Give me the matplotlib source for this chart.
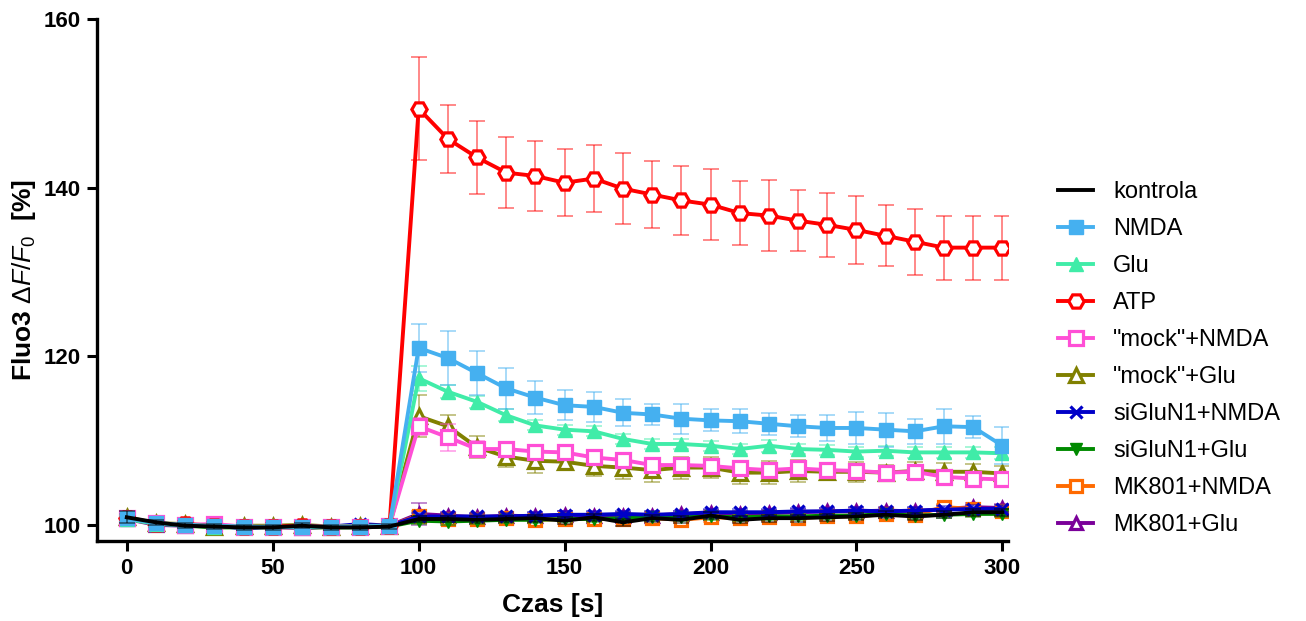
import matplotlib
matplotlib.use("Agg")
import matplotlib.pyplot as plt

plt.rcParams["font.family"] = ["Liberation Sans", "DejaVu Sans"]
plt.rcParams["mathtext.fontset"] = "custom"
plt.rcParams["mathtext.it"] = "Liberation Sans:italic"
plt.rcParams["mathtext.rm"] = "Liberation Sans"

time = [0, 10, 20, 30, 40, 50, 60, 70, 80, 90, 100, 110, 120, 130, 140, 150,
        160, 170, 180, 190, 200, 210, 220, 230, 240, 250, 260, 270, 280, 290, 300]

kontrola = [100.9, 100.3, 99.9, 99.8, 99.7, 99.7, 99.9, 99.7, 99.7, 99.8,
            100.7, 100.7, 100.6, 100.7, 100.8, 100.5, 100.9, 100.3, 100.8, 100.6,
            101.1, 100.6, 100.8, 100.8, 100.9, 101.0, 101.2, 101.0, 101.2, 101.5, 101.5]
kontrola_err = [0.7, 0.3, 0.3, 0.3, 0.3, 0.3, 0.3, 0.3, 0.3, 0.3,
                0.4, 0.4, 0.4, 0.4, 0.4, 0.4, 0.4, 0.4, 0.4, 0.4,
                0.4, 0.4, 0.4, 0.4, 0.4, 0.4, 0.4, 0.4, 0.4, 0.4, 0.4]

nmda = [100.8, 100.2, 100.0, 99.9, 99.8, 99.7, 99.8, 99.8, 99.8, 99.9,
        121.0, 119.8, 118.0, 116.2, 115.1, 114.2, 114.0, 113.3, 113.1, 112.6,
        112.4, 112.3, 112.0, 111.7, 111.5, 111.5, 111.3, 111.1, 111.7, 111.6, 109.4]
nmda_err = [0.5, 0.4, 0.4, 0.4, 0.4, 0.4, 0.4, 0.4, 0.4, 0.4,
            2.8, 3.2, 2.6, 2.4, 2.0, 1.8, 1.8, 1.6, 1.3, 1.8,
            1.3, 1.4, 1.3, 1.3, 1.5, 1.9, 2.0, 1.5, 2.1, 1.3, 2.2]

glu = [100.7, 100.1, 100.0, 99.8, 99.8, 99.8, 99.7, 99.8, 99.8, 99.9,
       117.4, 115.8, 114.6, 113.0, 111.8, 111.3, 111.1, 110.2, 109.6, 109.6,
       109.4, 109.0, 109.4, 109.0, 108.9, 108.7, 108.8, 108.6, 108.6, 108.6, 108.5]
glu_err = [0.4, 0.3, 0.3, 0.3, 0.3, 0.3, 0.3, 0.3, 0.3, 0.3,
           1.5, 0.8, 0.7, 0.7, 0.6, 0.6, 0.6, 0.6, 0.6, 0.6,
           0.6, 0.6, 0.7, 0.6, 0.6, 0.6, 0.6, 0.7, 0.7, 0.7, 0.7]

atp = [100.8, 100.1, 100.1, 99.9, 99.8, 99.8, 99.9, 99.8, 99.8, 99.9,
       149.4, 145.8, 143.6, 141.8, 141.4, 140.6, 141.1, 139.9, 139.2, 138.5,
       138.0, 137.0, 136.7, 136.1, 135.6, 135.0, 134.3, 133.6, 132.9, 132.9, 132.9]
atp_err = [0.5, 0.4, 0.4, 0.4, 0.4, 0.4, 0.4, 0.4, 0.4, 0.4,
           6.1, 4.0, 4.3, 4.2, 4.1, 4.0, 4.0, 4.2, 4.0, 4.1,
           4.2, 3.8, 4.2, 3.6, 3.8, 4.0, 3.6, 3.9, 3.8, 3.8, 3.8]

mock_nmda = [100.8, 100.2, 100.0, 100.1, 99.8, 99.7, 99.7, 99.8, 99.8, 99.9,
             111.7, 110.4, 109.0, 109.0, 108.7, 108.6, 108.0, 107.7, 107.1, 107.1,
             107.0, 106.7, 106.5, 106.7, 106.5, 106.4, 106.2, 106.3, 105.7, 105.5, 105.4]
mock_nmda_err = [0.5, 0.4, 0.4, 0.4, 0.4, 0.4, 0.4, 0.4, 0.4, 0.4,
                 1.0, 1.6, 0.9, 0.8, 0.8, 0.8, 0.7, 0.8, 0.8, 0.8,
                 0.8, 0.8, 0.8, 0.8, 0.8, 0.8, 0.8, 0.8, 0.8, 0.8, 0.8]

mock_glu = [100.9, 100.2, 100.1, 99.8, 99.9, 99.9, 100.0, 99.8, 99.9, 99.9,
            112.9, 111.7, 109.2, 108.1, 107.6, 107.5, 107.0, 106.8, 106.5, 106.8,
            106.8, 106.2, 106.2, 106.4, 106.3, 106.3, 106.2, 106.4, 106.3, 106.3, 106.1]
mock_glu_err = [0.5, 0.4, 0.4, 0.4, 0.4, 0.4, 0.4, 0.4, 0.4, 0.4,
                2.5, 1.3, 1.3, 1.2, 1.5, 1.0, 1.2, 1.3, 1.4, 1.3,
                1.2, 1.4, 1.4, 1.3, 1.0, 1.2, 0.9, 1.1, 1.0, 0.9, 0.9]

sigl_nmda = [100.8, 100.1, 100.0, 99.9, 99.6, 99.8, 99.8, 99.8, 100.1, 99.9,
             101.0, 101.0, 101.0, 101.0, 101.1, 101.2, 101.2, 101.3, 101.2, 101.3,
             101.5, 101.5, 101.5, 101.6, 101.6, 101.7, 101.6, 101.7, 101.8, 101.9, 101.9]
sigl_nmda_err = [0.4, 0.3, 0.3, 0.3, 0.3, 0.3, 0.3, 0.3, 0.3, 0.3,
                 0.4, 0.4, 0.4, 0.4, 0.4, 0.4, 0.4, 0.4, 0.4, 0.4,
                 0.4, 0.4, 0.4, 0.4, 0.4, 0.4, 0.4, 0.4, 0.4, 0.4, 0.4]

sigl_glu = [100.7, 100.2, 99.9, 99.7, 99.7, 99.7, 99.7, 99.7, 99.7, 99.8,
            100.5, 100.4, 100.5, 100.6, 100.6, 100.7, 100.7, 100.8, 100.9, 100.9,
            101.0, 100.9, 101.0, 101.0, 101.1, 101.1, 101.3, 101.1, 101.2, 101.3, 101.3]
sigl_glu_err = [0.4, 0.3, 0.3, 0.3, 0.3, 0.3, 0.3, 0.3, 0.3, 0.3,
                0.4, 0.4, 0.4, 0.4, 0.4, 0.4, 0.4, 0.4, 0.4, 0.4,
                0.4, 0.4, 0.4, 0.4, 0.4, 0.4, 0.4, 0.4, 0.4, 0.4, 0.4]

mk_nmda = [100.8, 100.1, 100.0, 99.8, 99.8, 99.7, 99.8, 99.7, 99.8, 99.9,
           101.1, 100.7, 100.7, 100.8, 100.6, 100.7, 100.7, 100.7, 100.8, 100.6,
           100.9, 100.8, 100.9, 100.8, 101.0, 101.0, 101.3, 101.2, 102.1, 101.9, 101.6]
mk_nmda_err = [0.4, 0.3, 0.3, 0.3, 0.3, 0.3, 0.3, 0.3, 0.3, 0.3,
               0.5, 0.4, 0.4, 0.4, 0.4, 0.4, 0.4, 0.4, 0.4, 0.4,
               0.5, 0.4, 0.4, 0.4, 0.4, 0.4, 0.4, 0.4, 0.4, 0.4, 0.4]

mk_glu = [100.7, 100.0, 99.9, 99.9, 99.8, 99.8, 99.6, 99.8, 99.8, 99.9,
          101.3, 101.1, 100.9, 101.1, 101.0, 101.2, 101.1, 101.1, 101.1, 101.3,
          101.4, 101.3, 101.4, 101.5, 101.6, 101.6, 101.7, 101.6, 101.9, 102.1, 102.0]
mk_glu_err = [0.4, 0.3, 0.3, 0.3, 0.3, 0.3, 0.3, 0.3, 0.3, 0.3,
              1.3, 0.4, 0.4, 0.4, 0.4, 0.4, 0.4, 0.4, 0.4, 0.4,
              0.4, 0.4, 0.4, 0.4, 0.4, 0.4, 0.4, 0.4, 0.5, 0.5, 0.5]

labels = ["kontrola", "NMDA", "Glu", "ATP", '"mock"+NMDA', '"mock"+Glu',
          "siGluN1+NMDA", "siGluN1+Glu", "MK801+NMDA", "MK801+Glu"]
values = [kontrola, nmda, glu, atp, mock_nmda, mock_glu,
          sigl_nmda, sigl_glu, mk_nmda, mk_glu]
errors = [kontrola_err, nmda_err, glu_err, atp_err, mock_nmda_err, mock_glu_err,
          sigl_nmda_err, sigl_glu_err, mk_nmda_err, mk_glu_err]

colors = ["#000000", "#45b0f0", "#40eca8", "#ff0000", "#ff4fd6", "#808000",
          "#0000c8", "#008a00", "#ff6a00", "#7a0099"]
markers = [None, "s", "^", "H", "s", "^", "x", "v", "s", "^"]
hollow = [False, False, False, True, True, True, False, False, True, True]
msizes = [0, 10, 10, 11, 10, 10, 9, 8, 8, 8]

fig = plt.figure(figsize=(13.06, 6.21), dpi=100)
ax = fig.add_axes([0.0743, 0.129, 0.6977, 0.840])

n = len(labels)
handles = []
for i, (lab, y, e, c, m, h, ms) in enumerate(zip(labels, values, errors, colors,
                                                  markers, hollow, msizes)):
    z = 10 + (n - i)
    if i == 0:
        z = 30
    ax.errorbar(time, y, yerr=e, fmt="none", ecolor=c, elinewidth=1.3,
                capsize=6, capthick=1.3, alpha=0.5, zorder=z - 0.5)
    line, = ax.plot(time, y, color=c, lw=2.8, marker=m, markersize=ms,
                    markerfacecolor=("white" if h else c), markeredgecolor=c,
                    markeredgewidth=(2.3 if (h or m == "x") else 1.0),
                    zorder=z, label=lab)
    handles.append(line)

ax.set_xlim(-10.2, 302)
ax.set_ylim(98.1, 160)
ax.set_xticks([0, 50, 100, 150, 200, 250, 300])
ax.set_yticks([100, 120, 140, 160])

for side in ("top", "right"):
    ax.spines[side].set_visible(False)
for side in ("left", "bottom"):
    ax.spines[side].set_linewidth(2.4)
ax.tick_params(axis="both", direction="out", length=7.5, width=2.2, labelsize=16)
ax.tick_params(axis="y", pad=4)
ax.tick_params(axis="x", pad=5)
for t in ax.get_xticklabels() + ax.get_yticklabels():
    t.set_fontweight("bold")

ax.set_xlabel("Czas [s]", fontsize=19, fontweight="bold", labelpad=10)
ax.set_ylabel(r"Fluo3 $ΔF/F_0$  [%]", fontsize=19, fontweight="bold", labelpad=4)

fig.legend(handles=handles, labels=labels, loc="upper left",
           bbox_to_anchor=(0.8029, 0.7235), frameon=False, fontsize=17,
           handlelength=1.48, handletextpad=0.85, labelspacing=0.635,
           borderaxespad=0)

fig.savefig("out.png", dpi=100)
